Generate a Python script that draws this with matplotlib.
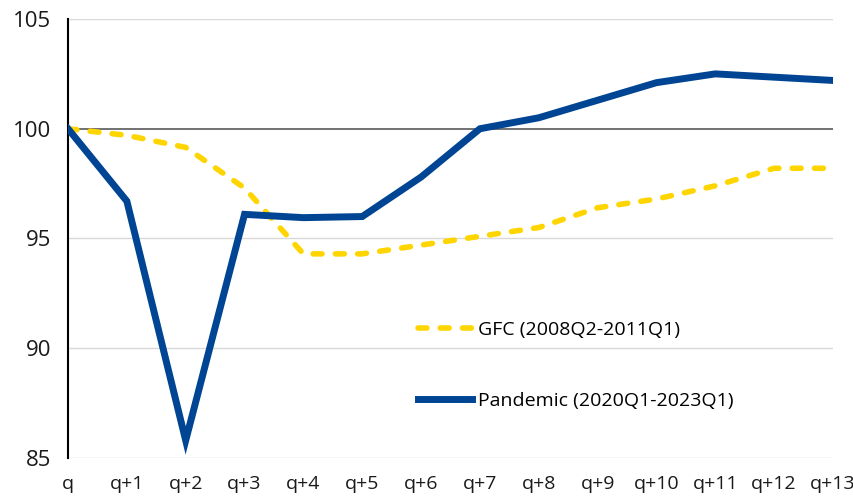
import matplotlib
matplotlib.use("Agg")
import matplotlib.pyplot as plt

categories = ["q", "q+1", "q+2", "q+3", "q+4", "q+5", "q+6", "q+7", "q+8", "q+9", "q+10", "q+11", "q+12", "q+13"]
gfc = [100.0, 99.7, 99.15, 97.3, 94.3, 94.3, 94.7, 95.1, 95.5, 96.4, 96.8, 97.4, 98.2, 98.2]
pandemic = [100.0, 96.7, 85.8, 96.1, 95.95, 96.0, 97.8, 100.0, 100.5, 101.3, 102.1, 102.5, 102.35, 102.2]
yticks = [85, 90, 95, 100, 105]

plt.rcParams['font.family'] = ['Open Sans', 'DejaVu Sans']

fig = plt.figure(figsize=(8.54, 4.97), dpi=100)
ax = fig.add_axes([68/854, 1 - 458/497, (833-68)/854, (458-19)/497])

x = list(range(len(categories)))
for yv in yticks:
    if yv == 100:
        ax.axhline(yv, color="#595959", lw=1.2, zorder=1)
    else:
        ax.axhline(yv, color="#d9d9d9", lw=1.0, zorder=1)

ax.plot(x, gfc, color="#FFD500", lw=4, dashes=(1.6, 2.4), solid_capstyle="round",
        dash_capstyle="round", label="GFC (2008Q2-2011Q1)", zorder=3)
ax.plot(x, pandemic, color="#004494", lw=5, solid_joinstyle="miter",
        label="Pandemic (2020Q1-2023Q1)", zorder=4)

ax.set_xlim(0, len(categories) - 1)
ax.set_ylim(85, 105)
ax.set_yticks(yticks)
ax.set_xticks(x)
ax.set_xticklabels(categories)
for s in ["top", "right", "bottom"]:
    ax.spines[s].set_visible(False)
ax.spines["left"].set_color("black")
ax.spines["left"].set_linewidth(1.5)
ax.tick_params(axis="both", length=0, colors="#1a1a1a")
ax.tick_params(axis="x", pad=12, labelsize=14)
ax.tick_params(axis="y", pad=12, labelsize=16)

leg = ax.legend(loc="upper left", bbox_to_anchor=((410-68)/765, 1 - (313-19)/439),
                frameon=False, fontsize=14, handlelength=2.8, handletextpad=0.3,
                labelspacing=2.75, borderaxespad=0)
fig.savefig("out.png", dpi=100)
